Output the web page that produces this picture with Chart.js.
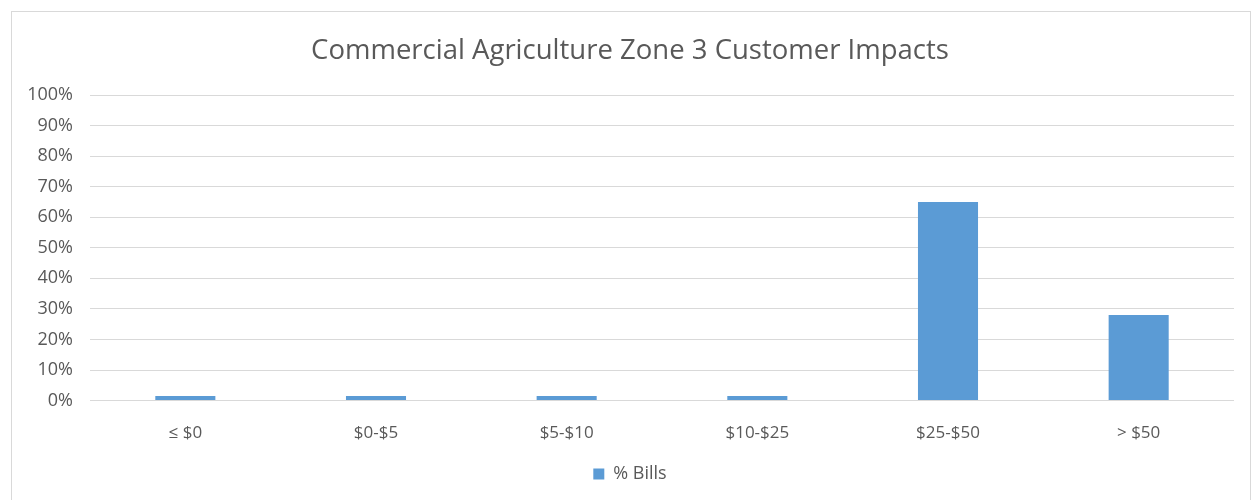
<!DOCTYPE html>
<html>
<head>
<meta charset="utf-8">
<script src="https://cdn.jsdelivr.net/npm/chart.js@4.4.1/dist/chart.umd.min.js"></script>
<style>
  html, body { margin: 0; padding: 0; background: #fff; }
  #wrap { position: relative; width: 1254px; height: 500px; overflow: hidden; }
  #frame {
    position: absolute; left: 11px; top: 11px; width: 1240px; height: 520px;
    border: 1px solid #d9d9d9; box-sizing: border-box;
  }
  #grafico { position: absolute; left: 0; top: 0; }
</style>
</head>
<body>
<div id="wrap">
  <div id="frame"></div>
  <canvas id="grafico" width="1254" height="500"></canvas>
</div>
<script>
// Rangos de impacto en la factura
const categorias = ['≤ $0', '$0-$5', '$5-$10', '$10-$25', '$25-$50', '> $50'];

// Porcentaje de facturas en cada rango
const porcentajeFacturas = [1.5, 1.5, 1.5, 1.5, 65, 28];

// Marcas del eje Y
const marcasY = [0, 10, 20, 30, 40, 50, 60, 70, 80, 90, 100];

const gris = '#595959';
const azul = '#5b9bd5';
const fuente = "'Open Sans', sans-serif";

Chart.defaults.font.family = fuente;
Chart.defaults.color = gris;

const ctx = document.getElementById('grafico').getContext('2d');

new Chart(ctx, {
    type: 'bar',
    data: {
        labels: categorias,
        datasets: [{
            label: '% Bills',
            data: porcentajeFacturas,
            backgroundColor: azul,
            borderWidth: 0,
            categoryPercentage: 1,
            barPercentage: 0.315
        }]
    },
    options: {
        responsive: false,
        animation: false,
        layout: {
            padding: { left: 26, right: 20, top: 20, bottom: 7 }
        },
        plugins: {
            title: {
                display: true,
                text: 'Commercial Agriculture Zone 3 Customer Impacts',
                color: gris,
                font: { size: 27.5, weight: 'normal' },
                padding: { top: 15, bottom: 27 }
            },
            legend: {
                position: 'bottom',
                labels: {
                    boxWidth: 11,
                    boxHeight: 11,
                    padding: 0,
                    color: gris,
                    font: { size: 18 }
                }
            },
            tooltip: { enabled: false }
        },
        scales: {
            x: {
                grid: { display: false, drawTicks: false },
                border: { display: false },
                ticks: {
                    color: gris,
                    font: { size: 17 },
                    padding: 22,
                    maxRotation: 0
                }
            },
            y: {
                min: 0,
                max: 100,
                // ancho fijo para que el área del gráfico empiece en x = 90
                afterFit: escala => { escala.width = 64; },
                afterBuildTicks: escala => {
                    escala.ticks = marcasY.map(v => ({ value: v }));
                },
                grid: { color: '#d9d9d9', drawTicks: false, lineWidth: 1 },
                border: { display: false },
                ticks: {
                    color: gris,
                    font: { size: 18 },
                    padding: 17,
                    callback: v => v + '%'
                }
            }
        }
    }
});
</script>
</body>
</html>
